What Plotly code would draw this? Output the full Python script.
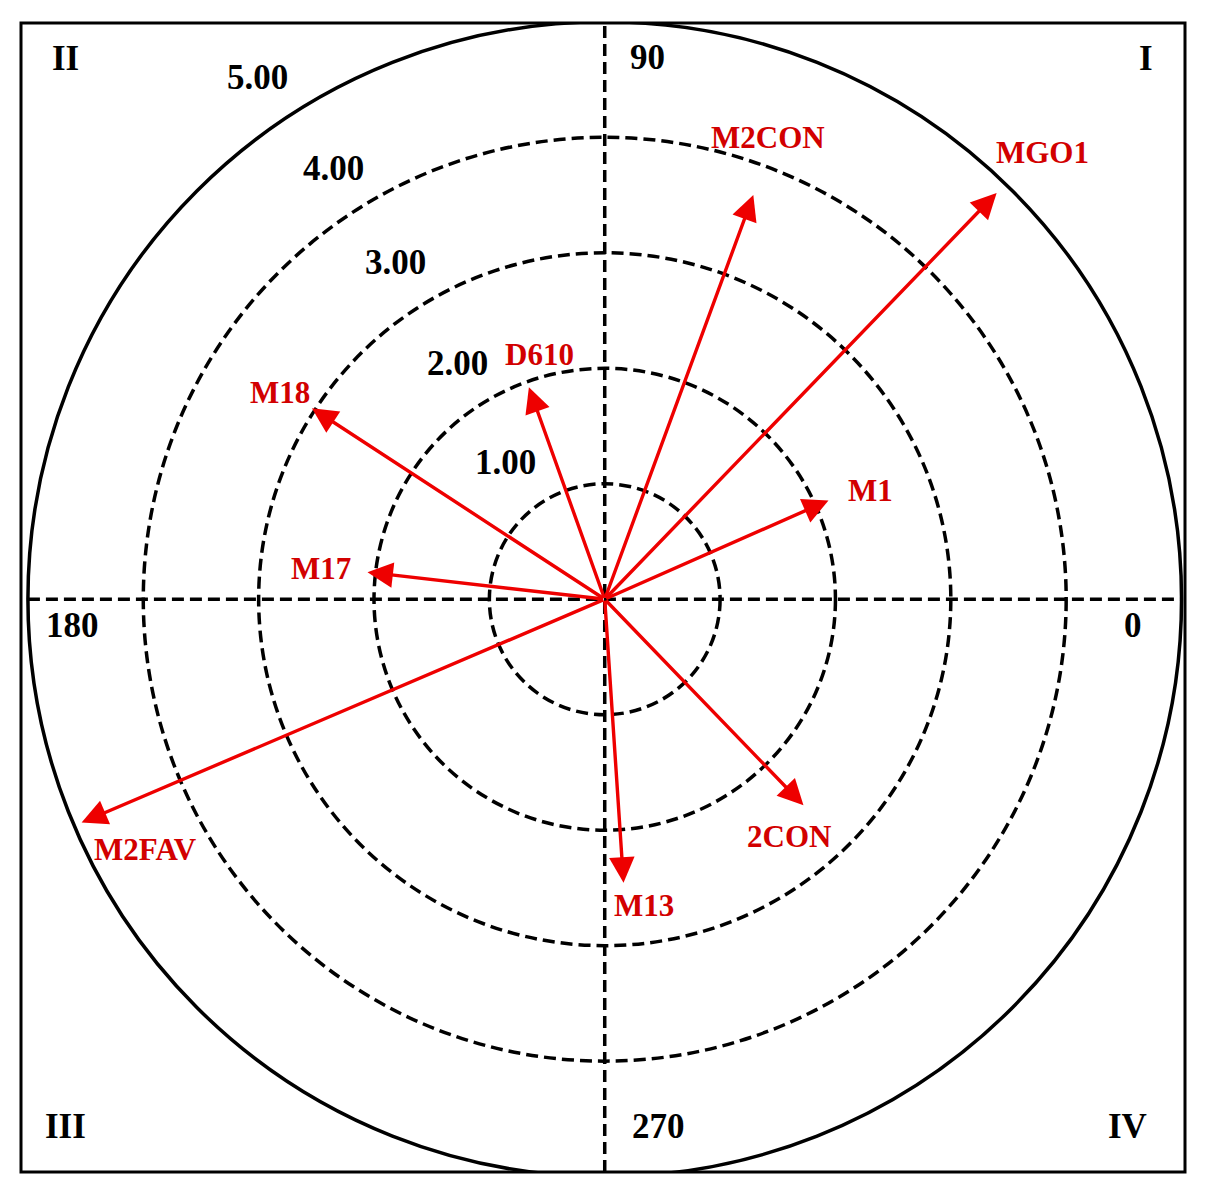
import numpy as np
import plotly.graph_objects as go

# ---- data ----
names = ["MGO1", "M2CON", "M1", "D610", "M18", "M17", "M2FAV", "M13", "2CON"]
lengths = [4.89, 3.73, 2.12, 1.95, 3.03, 2.07, 4.93, 2.46, 2.48]
angles_deg = [46.0, 69.8, 23.8, 109.7, 146.9, 173.5, 203.1, 273.8, 314.0]
ring_values = [1, 2, 3, 4, 5]
ring_labels = ["1.00", "2.00", "3.00", "4.00", "5.00"]
angle_labels = ["0", "90", "180", "270"]
quadrant_labels = ["I", "II", "III", "IV"]

# ---- layout / style constants ----
RED_LINE = "#ee0000"
RED_TEXT = "#d20000"
FONT = "Liberation Serif"
DASH = "12px,6px"
label_shift = {  # pixel offsets of the label from the arrow tip (x right, y up)
    "MGO1": (46, 41), "M2CON": (15, 57), "M1": (42, 10), "D610": (11, 33),
    "M18": (-32, 16), "M17": (-46, 4), "M2FAV": (64, -27), "M13": (20, -23),
    "2CON": (-14, -31),
}
ring_label_pos = [(1.46, 125.9), (2.41, 122.0), (3.43, 121.9), (4.41, 122.2), (5.43, 123.7)]
angle_label_pos = [(4.58, -0.23), (0.37, 4.69), (-4.61, -0.23), (0.47, -4.57)]
quad_label_pos = [(4.69, 4.68), (-4.67, 4.68), (-4.67, -4.57), (4.53, -4.57)]

th = np.radians(angles_deg)
xs = np.array(lengths) * np.cos(th)
ys = np.array(lengths) * np.sin(th)

fig = go.Figure()
fig.add_trace(go.Scatter(x=[0], y=[0], mode="markers",
                         marker=dict(size=1, color="rgba(0,0,0,0)"),
                         showlegend=False, hoverinfo="skip"))

shapes = []
for r in ring_values:
    last = r == ring_values[-1]
    shapes.append(dict(type="circle", xref="x", yref="y", x0=-r, x1=r, y0=-r, y1=r,
                       line=dict(color="black", width=3.5,
                                 dash="solid" if last else DASH),
                       layer="below"))
R = ring_values[-1]
shapes.append(dict(type="line", xref="x", yref="y", x0=-R, x1=R, y0=0, y1=0,
                   line=dict(color="black", width=3.5, dash=DASH), layer="below"))
shapes.append(dict(type="line", xref="x", yref="paper", x0=0, x1=0, y0=0, y1=1,
                   line=dict(color="black", width=3.5, dash=DASH), layer="below"))
shapes.append(dict(type="rect", xref="paper", yref="paper", x0=0, x1=1, y0=0, y1=1,
                   line=dict(color="black", width=3)))

ann = []
for n, x, y in zip(names, xs, ys):
    ann.append(dict(x=x, y=y, ax=0, ay=0, xref="x", yref="y", axref="x", ayref="y",
                    text="", showarrow=True, arrowhead=2, arrowsize=1.5,
                    arrowwidth=3.4, arrowcolor=RED_LINE, standoff=0))
    dx, dy = label_shift[n]
    ann.append(dict(x=x, y=y, xref="x", yref="y", text=f"<b>{n}</b>", showarrow=False,
                    xshift=dx, yshift=dy, font=dict(family=FONT, size=31, color=RED_TEXT)))

for lab, (rr, aa) in zip(ring_labels, ring_label_pos):
    ann.append(dict(x=rr * np.cos(np.radians(aa)), y=rr * np.sin(np.radians(aa)),
                    xref="x", yref="y", text=f"<b>{lab}</b>", showarrow=False,
                    font=dict(family=FONT, size=35, color="black")))
for lab, (x, y) in zip(angle_labels, angle_label_pos):
    ann.append(dict(x=x, y=y, xref="x", yref="y", text=f"<b>{lab}</b>", showarrow=False,
                    font=dict(family=FONT, size=35, color="black")))
for lab, (x, y) in zip(quadrant_labels, quad_label_pos):
    ann.append(dict(x=x, y=y, xref="x", yref="y", text=f"<b>{lab}</b>", showarrow=False,
                    font=dict(family=FONT, size=35, color="black")))

fig.update_layout(
    width=1190, height=1170,
    margin=dict(l=13, r=13, t=15, b=6),
    paper_bgcolor="white", plot_bgcolor="white",
    xaxis=dict(range=[-5.06, 5.03], visible=False, fixedrange=True),
    yaxis=dict(range=[-4.96, 4.99], visible=False, fixedrange=True),
    shapes=shapes, annotations=ann, showlegend=False,
)
fig.write_html("out.html")
